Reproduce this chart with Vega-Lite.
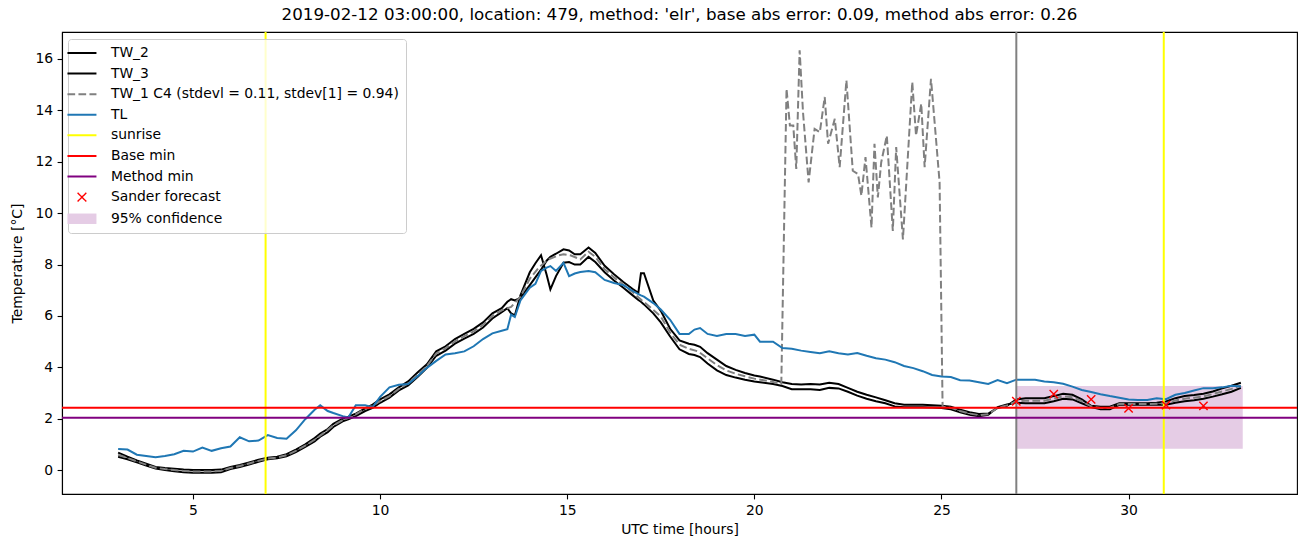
{
  "$schema": "https://vega.github.io/schema/vega-lite/v6.json",
  "width": 1235,
  "height": 462,
  "autosize": {"type": "none"},
  "padding": {"left": 62, "top": 32, "right": 14, "bottom": 53},
  "title": {"text": "2019-02-12 03:00:00, location: 479, method: 'elr', base abs error: 0.09, method abs error: 0.26", "fontSize": 16.7, "font": "DejaVu Sans", "fontWeight": "normal", "color": "black", "anchor": "middle", "offset": 7},
  "config": {
    "view": {"stroke": "black", "strokeWidth": 1.1},
    "font": "DejaVu Sans",
    "axis": {"labelFont": "DejaVu Sans", "labelFontSize": 13.9, "titleFont": "DejaVu Sans", "titleFontSize": 13.9, "titleFontWeight": "normal", "labelColor": "black", "titleColor": "black", "tickColor": "black", "domainColor": "black", "tickSize": 4.9, "tickWidth": 1.1, "domainWidth": 1.1, "grid": false, "labelPadding": 4.5}
  },
  "datasets": {
    "tw": [
      {"h": 3.0, "TW_2": 0.68, "TW_3": 0.52, "TL": 0.82},
      {"h": 3.25, "TW_2": 0.52, "TW_3": 0.42, "TL": 0.8},
      {"h": 3.5, "TW_2": 0.38, "TW_3": 0.3, "TL": 0.6},
      {"h": 3.75, "TW_2": 0.25, "TW_3": 0.18, "TL": 0.55},
      {"h": 4.0, "TW_2": 0.12, "TW_3": 0.06, "TL": 0.5},
      {"h": 4.25, "TW_2": 0.08, "TW_3": 0.0, "TL": 0.55},
      {"h": 4.5, "TW_2": 0.05, "TW_3": -0.04, "TL": 0.62},
      {"h": 4.75, "TW_2": 0.02, "TW_3": -0.08, "TL": 0.75},
      {"h": 5.0, "TW_2": 0.0, "TW_3": -0.1, "TL": 0.72},
      {"h": 5.25, "TW_2": 0.0, "TW_3": -0.1, "TL": 0.88},
      {"h": 5.5, "TW_2": 0.0, "TW_3": -0.1, "TL": 0.75},
      {"h": 5.75, "TW_2": 0.02, "TW_3": -0.08, "TL": 0.85},
      {"h": 6.0, "TW_2": 0.12, "TW_3": 0.04, "TL": 0.92},
      {"h": 6.25, "TW_2": 0.2, "TW_3": 0.12, "TL": 1.28},
      {"h": 6.5, "TW_2": 0.3, "TW_3": 0.22, "TL": 1.12},
      {"h": 6.75, "TW_2": 0.4, "TW_3": 0.32, "TL": 1.15},
      {"h": 7.0, "TW_2": 0.48, "TW_3": 0.42, "TL": 1.36},
      {"h": 7.25, "TW_2": 0.52, "TW_3": 0.46, "TL": 1.25},
      {"h": 7.5, "TW_2": 0.62, "TW_3": 0.54, "TL": 1.22},
      {"h": 7.75, "TW_2": 0.8, "TW_3": 0.7, "TL": 1.55},
      {"h": 8.0, "TW_2": 1.0, "TW_3": 0.9, "TL": 1.98},
      {"h": 8.25, "TW_2": 1.25, "TW_3": 1.12, "TL": 2.35},
      {"h": 8.4, "TW_2": 1.42, "TW_3": 1.3, "TL": 2.52},
      {"h": 8.6, "TW_2": 1.6, "TW_3": 1.48, "TL": 2.3},
      {"h": 8.75, "TW_2": 1.8, "TW_3": 1.68, "TL": 2.22},
      {"h": 9.0, "TW_2": 2.0, "TW_3": 1.9, "TL": 2.1},
      {"h": 9.15, "TW_2": 2.08, "TW_3": 1.98, "TL": 2.05},
      {"h": 9.35, "TW_2": 2.2, "TW_3": 2.1, "TL": 2.52},
      {"h": 9.6, "TW_2": 2.4, "TW_3": 2.3, "TL": 2.52},
      {"h": 9.8, "TW_2": 2.55, "TW_3": 2.42, "TL": 2.45},
      {"h": 10.0, "TW_2": 2.75, "TW_3": 2.62, "TL": 2.85},
      {"h": 10.25, "TW_2": 2.95, "TW_3": 2.82, "TL": 3.22},
      {"h": 10.5, "TW_2": 3.22, "TW_3": 3.1, "TL": 3.32},
      {"h": 10.75, "TW_2": 3.45, "TW_3": 3.3, "TL": 3.35},
      {"h": 11.0, "TW_2": 3.8, "TW_3": 3.62, "TL": 3.65},
      {"h": 11.25, "TW_2": 4.12, "TW_3": 3.98, "TL": 3.98},
      {"h": 11.5, "TW_2": 4.62, "TW_3": 4.45, "TL": 4.25},
      {"h": 11.75, "TW_2": 4.82, "TW_3": 4.65, "TL": 4.5},
      {"h": 12.0, "TW_2": 5.1, "TW_3": 4.92, "TL": 4.55},
      {"h": 12.25, "TW_2": 5.3, "TW_3": 5.12, "TL": 4.62},
      {"h": 12.5, "TW_2": 5.5, "TW_3": 5.3, "TL": 4.82},
      {"h": 12.75, "TW_2": 5.75, "TW_3": 5.55, "TL": 5.1},
      {"h": 13.0, "TW_2": 6.1, "TW_3": 5.9, "TL": 5.32},
      {"h": 13.25, "TW_2": 6.3, "TW_3": 6.15, "TL": 5.42},
      {"h": 13.4, "TW_2": 6.55, "TW_3": 6.3, "TL": 5.48},
      {"h": 13.5, "TW_2": 6.65, "TW_3": 6.1, "TL": 6.05},
      {"h": 13.6, "TW_2": 6.6, "TW_3": 6.02, "TL": 5.96},
      {"h": 13.75, "TW_2": 6.7, "TW_3": 6.8, "TL": 6.6},
      {"h": 14.0, "TW_2": 7.2, "TW_3": 7.7, "TL": 7.1},
      {"h": 14.15, "TW_2": 7.5, "TW_3": 8.05, "TL": 7.25},
      {"h": 14.3, "TW_2": 7.8, "TW_3": 8.36, "TL": 7.75},
      {"h": 14.45, "TW_2": 8.15, "TW_3": 7.6, "TL": 7.88},
      {"h": 14.55, "TW_2": 8.3, "TW_3": 7.03, "TL": 7.94},
      {"h": 14.7, "TW_2": 8.42, "TW_3": 7.55, "TL": 7.75},
      {"h": 14.9, "TW_2": 8.59, "TW_3": 8.07, "TL": 8.07},
      {"h": 15.05, "TW_2": 8.55, "TW_3": 8.1, "TL": 7.55},
      {"h": 15.2, "TW_2": 8.4, "TW_3": 8.0, "TL": 7.65},
      {"h": 15.35, "TW_2": 8.4, "TW_3": 8.0, "TL": 7.71},
      {"h": 15.57, "TW_2": 8.66, "TW_3": 8.3, "TL": 7.75},
      {"h": 15.75, "TW_2": 8.45, "TW_3": 8.1, "TL": 7.7},
      {"h": 16.0, "TW_2": 7.95, "TW_3": 7.7, "TL": 7.4},
      {"h": 16.25, "TW_2": 7.62, "TW_3": 7.38, "TL": 7.28},
      {"h": 16.5, "TW_2": 7.32, "TW_3": 7.1, "TL": 7.2},
      {"h": 16.75, "TW_2": 7.05, "TW_3": 6.8, "TL": 6.97},
      {"h": 16.9, "TW_2": 6.9, "TW_3": 6.62, "TL": 6.85},
      {"h": 16.97, "TW_2": 7.66, "TW_3": 6.55, "TL": 6.8},
      {"h": 17.05, "TW_2": 7.66, "TW_3": 6.45, "TL": 6.75},
      {"h": 17.3, "TW_2": 6.6, "TW_3": 6.1, "TL": 6.5},
      {"h": 17.5, "TW_2": 6.2, "TW_3": 5.75, "TL": 6.25},
      {"h": 17.75, "TW_2": 5.5, "TW_3": 5.2, "TL": 5.85},
      {"h": 18.0, "TW_2": 5.05, "TW_3": 4.7, "TL": 5.3},
      {"h": 18.25, "TW_2": 4.92, "TW_3": 4.52, "TL": 5.3},
      {"h": 18.4, "TW_2": 4.88, "TW_3": 4.48, "TL": 5.47},
      {"h": 18.55, "TW_2": 4.8, "TW_3": 4.4, "TL": 5.53},
      {"h": 18.75, "TW_2": 4.55, "TW_3": 4.15, "TL": 5.3},
      {"h": 19.0, "TW_2": 4.3, "TW_3": 3.88, "TL": 5.22},
      {"h": 19.25, "TW_2": 4.05, "TW_3": 3.7, "TL": 5.3},
      {"h": 19.5, "TW_2": 3.9, "TW_3": 3.6, "TL": 5.3},
      {"h": 19.75, "TW_2": 3.78, "TW_3": 3.52, "TL": 5.22},
      {"h": 20.0, "TW_2": 3.68, "TW_3": 3.45, "TL": 5.27},
      {"h": 20.15, "TW_2": 3.64, "TW_3": 3.42, "TL": 5.0},
      {"h": 20.5, "TW_2": 3.52, "TW_3": 3.35, "TL": 5.0},
      {"h": 20.75, "TW_2": 3.42, "TW_3": 3.27, "TL": 4.75},
      {"h": 21.0, "TW_2": 3.35, "TW_3": 3.15, "TL": 4.72},
      {"h": 21.25, "TW_2": 3.33, "TW_3": 3.15, "TL": 4.65},
      {"h": 21.5, "TW_2": 3.35, "TW_3": 3.15, "TL": 4.6},
      {"h": 21.75, "TW_2": 3.33, "TW_3": 3.12, "TL": 4.55},
      {"h": 22.0, "TW_2": 3.4, "TW_3": 3.2, "TL": 4.62},
      {"h": 22.25, "TW_2": 3.35, "TW_3": 3.18, "TL": 4.55},
      {"h": 22.5, "TW_2": 3.2, "TW_3": 3.05, "TL": 4.5},
      {"h": 22.75, "TW_2": 3.05, "TW_3": 2.9, "TL": 4.56},
      {"h": 23.0, "TW_2": 2.93, "TW_3": 2.78, "TL": 4.45},
      {"h": 23.25, "TW_2": 2.83, "TW_3": 2.68, "TL": 4.35},
      {"h": 23.5, "TW_2": 2.72, "TW_3": 2.6, "TL": 4.3},
      {"h": 23.75, "TW_2": 2.6, "TW_3": 2.48, "TL": 4.2},
      {"h": 24.0, "TW_2": 2.54, "TW_3": 2.45, "TL": 4.05},
      {"h": 24.25, "TW_2": 2.54, "TW_3": 2.45, "TL": 3.97},
      {"h": 24.5, "TW_2": 2.54, "TW_3": 2.45, "TL": 3.85},
      {"h": 24.75, "TW_2": 2.52, "TW_3": 2.44, "TL": 3.7},
      {"h": 25.0, "TW_2": 2.5, "TW_3": 2.42, "TL": 3.64},
      {"h": 25.25, "TW_2": 2.47, "TW_3": 2.37, "TL": 3.62},
      {"h": 25.5, "TW_2": 2.35, "TW_3": 2.25, "TL": 3.5},
      {"h": 25.75, "TW_2": 2.25, "TW_3": 2.15, "TL": 3.49},
      {"h": 26.0, "TW_2": 2.18, "TW_3": 2.1, "TL": 3.42},
      {"h": 26.25, "TW_2": 2.2, "TW_3": 2.15, "TL": 3.35},
      {"h": 26.5, "TW_2": 2.42, "TW_3": 2.45, "TL": 3.5},
      {"h": 26.75, "TW_2": 2.5, "TW_3": 2.55, "TL": 3.38},
      {"h": 27.0, "TW_2": 2.75, "TW_3": 2.62, "TL": 3.52},
      {"h": 27.25, "TW_2": 2.8, "TW_3": 2.6, "TL": 3.52},
      {"h": 27.5, "TW_2": 2.8, "TW_3": 2.6, "TL": 3.52},
      {"h": 27.75, "TW_2": 2.8, "TW_3": 2.6, "TL": 3.45},
      {"h": 28.0, "TW_2": 2.88, "TW_3": 2.68, "TL": 3.42},
      {"h": 28.25, "TW_2": 2.97, "TW_3": 2.78, "TL": 3.36},
      {"h": 28.5, "TW_2": 2.93, "TW_3": 2.75, "TL": 3.25},
      {"h": 28.75, "TW_2": 2.75, "TW_3": 2.6, "TL": 3.12},
      {"h": 29.0, "TW_2": 2.5, "TW_3": 2.45, "TL": 3.04},
      {"h": 29.25, "TW_2": 2.47, "TW_3": 2.37, "TL": 2.95},
      {"h": 29.5, "TW_2": 2.47, "TW_3": 2.37, "TL": 2.88},
      {"h": 29.75, "TW_2": 2.6, "TW_3": 2.54, "TL": 2.82},
      {"h": 30.0, "TW_2": 2.6, "TW_3": 2.54, "TL": 2.75},
      {"h": 30.25, "TW_2": 2.6, "TW_3": 2.54, "TL": 2.73},
      {"h": 30.5, "TW_2": 2.6, "TW_3": 2.54, "TL": 2.73},
      {"h": 30.75, "TW_2": 2.62, "TW_3": 2.54, "TL": 2.8},
      {"h": 31.0, "TW_2": 2.67, "TW_3": 2.54, "TL": 2.76},
      {"h": 31.25, "TW_2": 2.8, "TW_3": 2.62, "TL": 2.93},
      {"h": 31.5, "TW_2": 2.88, "TW_3": 2.68, "TL": 3.0},
      {"h": 31.75, "TW_2": 2.92, "TW_3": 2.72, "TL": 3.1},
      {"h": 32.0, "TW_2": 2.97, "TW_3": 2.78, "TL": 3.19},
      {"h": 32.25, "TW_2": 3.06, "TW_3": 2.86, "TL": 3.19},
      {"h": 32.5, "TW_2": 3.18, "TW_3": 2.95, "TL": 3.22},
      {"h": 32.75, "TW_2": 3.28, "TW_3": 3.05, "TL": 3.28},
      {"h": 33.0, "TW_2": 3.4, "TW_3": 3.2, "TL": 3.25}
    ],
    "tw1": [
      {"h": 3.0, "T": 0.6}, {"h": 3.25, "T": 0.47}, {"h": 3.5, "T": 0.34}, {"h": 3.75, "T": 0.21},
      {"h": 4.0, "T": 0.09}, {"h": 4.25, "T": 0.04}, {"h": 4.5, "T": 0.0}, {"h": 4.75, "T": -0.03},
      {"h": 5.0, "T": -0.05}, {"h": 5.25, "T": -0.05}, {"h": 5.5, "T": -0.05}, {"h": 5.75, "T": -0.03},
      {"h": 6.0, "T": 0.08}, {"h": 6.25, "T": 0.16}, {"h": 6.5, "T": 0.26}, {"h": 6.75, "T": 0.36},
      {"h": 7.0, "T": 0.45}, {"h": 7.25, "T": 0.49}, {"h": 7.5, "T": 0.58}, {"h": 7.75, "T": 0.75},
      {"h": 8.0, "T": 0.95}, {"h": 8.25, "T": 1.18}, {"h": 8.5, "T": 1.45}, {"h": 8.75, "T": 1.74},
      {"h": 9.0, "T": 1.95}, {"h": 9.25, "T": 2.08}, {"h": 9.5, "T": 2.3}, {"h": 9.75, "T": 2.48},
      {"h": 10.0, "T": 2.68}, {"h": 10.25, "T": 2.88}, {"h": 10.5, "T": 3.16}, {"h": 10.75, "T": 3.38},
      {"h": 11.0, "T": 3.71}, {"h": 11.25, "T": 4.05}, {"h": 11.5, "T": 4.54}, {"h": 11.75, "T": 4.74},
      {"h": 12.0, "T": 5.01}, {"h": 12.25, "T": 5.21}, {"h": 12.5, "T": 5.4}, {"h": 12.75, "T": 5.65},
      {"h": 13.0, "T": 6.0}, {"h": 13.25, "T": 6.22}, {"h": 13.5, "T": 6.35}, {"h": 13.75, "T": 6.75},
      {"h": 14.0, "T": 7.45}, {"h": 14.25, "T": 7.9}, {"h": 14.5, "T": 8.2}, {"h": 14.75, "T": 8.35},
      {"h": 14.9, "T": 8.4}, {"h": 15.1, "T": 8.35}, {"h": 15.35, "T": 8.2}, {"h": 15.57, "T": 8.5},
      {"h": 15.75, "T": 8.3}, {"h": 16.0, "T": 7.82}, {"h": 16.25, "T": 7.5}, {"h": 16.5, "T": 7.21},
      {"h": 16.75, "T": 6.92}, {"h": 17.0, "T": 6.6}, {"h": 17.25, "T": 6.3}, {"h": 17.5, "T": 5.98},
      {"h": 17.75, "T": 5.35}, {"h": 18.0, "T": 4.88}, {"h": 18.25, "T": 4.72}, {"h": 18.5, "T": 4.62},
      {"h": 18.75, "T": 4.35}, {"h": 19.0, "T": 4.09}, {"h": 19.25, "T": 3.88}, {"h": 19.5, "T": 3.75},
      {"h": 19.75, "T": 3.65}, {"h": 20.0, "T": 3.56}, {"h": 20.25, "T": 3.5}, {"h": 20.5, "T": 3.43},
      {"h": 20.72, "T": 3.35}, {"h": 20.86, "T": 14.84}, {"h": 20.95, "T": 13.41}, {"h": 21.04, "T": 13.41},
      {"h": 21.12, "T": 11.72}, {"h": 21.21, "T": 16.34}, {"h": 21.3, "T": 13.93}, {"h": 21.45, "T": 11.2},
      {"h": 21.61, "T": 13.28}, {"h": 21.75, "T": 13.15}, {"h": 21.88, "T": 14.52}, {"h": 21.97, "T": 12.7},
      {"h": 22.15, "T": 13.67}, {"h": 22.28, "T": 11.79}, {"h": 22.46, "T": 15.17}, {"h": 22.63, "T": 11.65},
      {"h": 22.77, "T": 11.52}, {"h": 22.86, "T": 10.68}, {"h": 22.97, "T": 12.18}, {"h": 23.13, "T": 9.44},
      {"h": 23.21, "T": 12.7}, {"h": 23.3, "T": 10.61}, {"h": 23.39, "T": 11.98}, {"h": 23.54, "T": 13.02},
      {"h": 23.7, "T": 9.31}, {"h": 23.79, "T": 12.57}, {"h": 23.97, "T": 8.98}, {"h": 24.22, "T": 15.1},
      {"h": 24.32, "T": 13.02}, {"h": 24.46, "T": 14.26}, {"h": 24.55, "T": 11.79}, {"h": 24.72, "T": 15.23},
      {"h": 24.95, "T": 11.2}, {"h": 25.03, "T": 2.47}, {"h": 25.25, "T": 2.42}, {"h": 25.5, "T": 2.3},
      {"h": 25.75, "T": 2.2}, {"h": 26.0, "T": 2.14}, {"h": 26.25, "T": 2.17}, {"h": 26.5, "T": 2.43},
      {"h": 26.75, "T": 2.52}, {"h": 27.0, "T": 2.68}, {"h": 27.25, "T": 2.7}, {"h": 27.5, "T": 2.7},
      {"h": 27.75, "T": 2.7}, {"h": 28.0, "T": 2.78}, {"h": 28.25, "T": 2.87}, {"h": 28.5, "T": 2.84},
      {"h": 28.75, "T": 2.68}, {"h": 29.0, "T": 2.48}, {"h": 29.25, "T": 2.42}, {"h": 29.5, "T": 2.42},
      {"h": 29.75, "T": 2.57}, {"h": 30.0, "T": 2.57}, {"h": 30.5, "T": 2.57}, {"h": 31.0, "T": 2.6},
      {"h": 31.25, "T": 2.71}, {"h": 31.5, "T": 2.78}, {"h": 31.75, "T": 2.82}, {"h": 32.0, "T": 2.87},
      {"h": 32.25, "T": 2.96}, {"h": 32.5, "T": 3.06}, {"h": 32.75, "T": 3.16}, {"h": 33.0, "T": 3.3}
    ],
    "forecast": [
      {"h": 27, "T": 2.68}, {"h": 28, "T": 2.96}, {"h": 29, "T": 2.75},
      {"h": 30, "T": 2.4}, {"h": 31, "T": 2.53}, {"h": 32, "T": 2.5}
    ]
  },
  "layer": [
    {
      "data": {"values": [{"x0": 27.0, "x1": 33.05, "lo": 0.83, "hi": 3.27}]},
      "mark": {"type": "rect", "fill": "#e5cce5"},
      "encoding": {
        "x": {"field": "x0", "type": "quantitative", "scale": {"domain": [1.5, 34.5], "nice": false, "zero": false}, "axis": {"values": [5, 10, 15, 20, 25, 30], "title": "UTC time [hours]", "titlePadding": 5}},
        "x2": {"field": "x1"},
        "y": {"field": "lo", "type": "quantitative", "scale": {"domain": [-0.93, 17.05], "nice": false, "zero": false}, "axis": {"values": [0, 2, 4, 6, 8, 10, 12, 14, 16], "title": "Temperature [°C]", "titlePadding": 10}},
        "y2": {"field": "hi"}
      }
    },
    {
      "data": {"name": "tw"},
      "transform": [{"fold": ["TW_2", "TW_3"], "as": ["series", "T"]}],
      "mark": {"type": "line", "strokeWidth": 2},
      "encoding": {
        "x": {"field": "h", "type": "quantitative", "title": "UTC time [hours]"},
        "y": {"field": "T", "type": "quantitative", "title": "Temperature [°C]"},
        "color": {
          "field": "series", "type": "nominal",
          "scale": {
            "domain": ["TW_2", "TW_3", "TW_1 C4 (stdevl = 0.11, stdev[1] = 0.94)", "TL", "sunrise", "Base min", "Method min", "Sander forecast", "95% confidence"],
            "range": ["#000000", "#000000", "#808080", "#1f77b4", "#ffff00", "#ff0000", "#800080", "#ff0000", "#e5cce5"]
          },
          "legend": {
            "title": null, "orient": "none", "legendX": 6, "legendY": 7,
            "symbolType": {"expr": "datum.value === 'Sander forecast' ? 'M-0.3,-0.3L0.3,0.3M-0.3,0.3L0.3,-0.3' : (datum.value === '95% confidence' ? 'M-1,-0.36L1,-0.36L1,0.36L-1,0.36Z' : 'stroke')"},
            "symbolSize": 841,
            "symbolStrokeWidth": {"expr": "datum.value === '95% confidence' ? 0 : (datum.value === 'Sander forecast' ? 1.4 : 2)"},
            "symbolFillColor": {"expr": "datum.value === '95% confidence' ? '#e5cce5' : 'transparent'"},
            "symbolDash": {"expr": "indexof(datum.value, 'TW_1') === 0 ? [7.7, 3.3] : [1, 0]"},
            "labelFontSize": 13.9, "labelFont": "DejaVu Sans", "labelColor": "black", "labelLimit": 400,
            "labelOffset": 22, "rowPadding": 5.6, "padding": 7,
            "fillColor": "rgba(255,255,255,0.8)", "strokeColor": "#cccccc", "cornerRadius": 3
          }
        },
        "detail": {"field": "series"}
      }
    },
    {
      "data": {"name": "tw1"},
      "mark": {"type": "line", "strokeWidth": 2, "color": "#808080", "strokeDash": [7.7, 3.3]},
      "encoding": {
        "x": {"field": "h", "type": "quantitative", "title": "UTC time [hours]"},
        "y": {"field": "T", "type": "quantitative", "title": "Temperature [°C]"}
      }
    },
    {
      "data": {"name": "tw"},
      "transform": [{"fold": ["TL"], "as": ["series", "T"]}],
      "mark": {"type": "line", "strokeWidth": 2},
      "encoding": {
        "x": {"field": "h", "type": "quantitative", "title": "UTC time [hours]"},
        "y": {"field": "T", "type": "quantitative", "title": "Temperature [°C]"},
        "color": {"field": "series", "type": "nominal"}
      }
    },
    {
      "data": {"values": [{"h": 27.0}]},
      "mark": {"type": "rule", "color": "#808080", "strokeWidth": 2},
      "encoding": {"x": {"field": "h", "type": "quantitative", "title": "UTC time [hours]"}}
    },
    {
      "data": {"values": [{"h": 6.94}, {"h": 30.94}]},
      "mark": {"type": "rule", "color": "#ffff00", "strokeWidth": 2},
      "encoding": {"x": {"field": "h", "type": "quantitative", "title": "UTC time [hours]"}}
    },
    {
      "data": {"values": [{"T": 2.43}]},
      "mark": {"type": "rule", "color": "#ff0000", "strokeWidth": 2},
      "encoding": {"y": {"field": "T", "type": "quantitative", "title": "Temperature [°C]"}}
    },
    {
      "data": {"values": [{"T": 2.04}]},
      "mark": {"type": "rule", "color": "#800080", "strokeWidth": 2},
      "encoding": {"y": {"field": "T", "type": "quantitative", "title": "Temperature [°C]"}}
    },
    {
      "data": {"name": "forecast"},
      "mark": {"type": "point", "shape": "M-1,-1L1,1M-1,1L1,-1", "size": 69, "filled": false, "stroke": "#ff0000", "strokeWidth": 1.4, "opacity": 1},
      "encoding": {
        "x": {"field": "h", "type": "quantitative", "title": "UTC time [hours]"},
        "y": {"field": "T", "type": "quantitative", "title": "Temperature [°C]"}
      }
    }
  ]
}
